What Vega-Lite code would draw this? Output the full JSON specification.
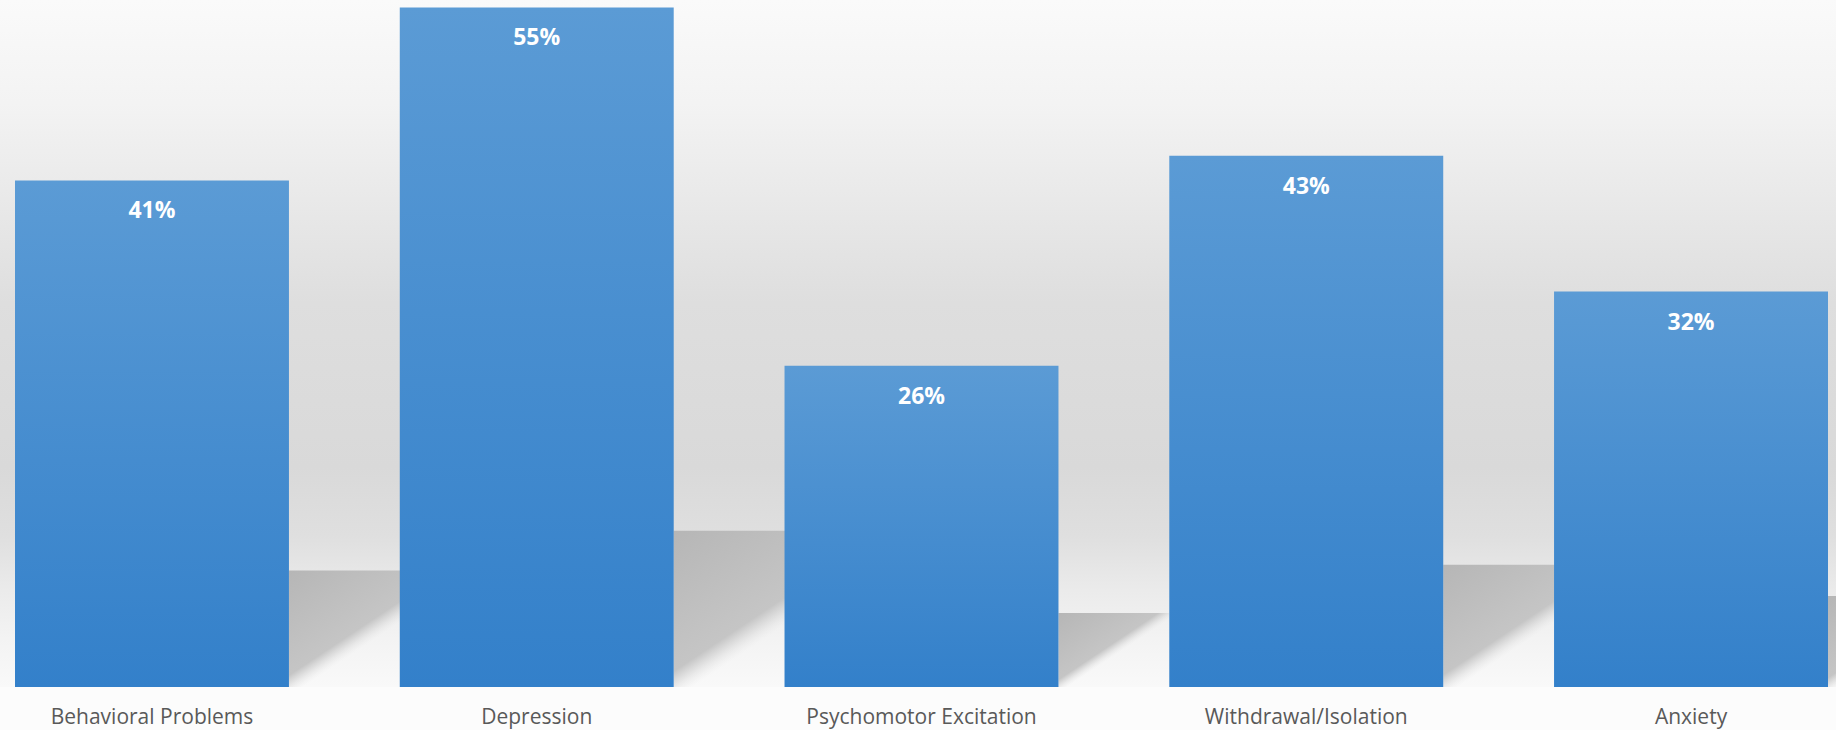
{
  "$schema": "https://vega.github.io/schema/vega-lite/v6.json",
  "width": 1836,
  "height": 687,
  "autosize": {"type": "none"},
  "padding": {"left": 0, "top": 0, "right": 0, "bottom": 43},
  "background": "#fcfcfc",
  "config": {
    "view": {"stroke": null},
    "font": "Open Sans",
    "axisX": {
      "title": null, "domain": false, "ticks": false, "labelAngle": 0,
      "labelFont": "Open Sans", "labelFontSize": 21, "labelColor": "#595959",
      "labelPadding": 36, "labelBaseline": "alphabetic", "labelLimit": 500
    }
  },
  "data": {
    "values": [
      {"category": "Behavioral Problems", "value": 0.41},
      {"category": "Depression", "value": 0.55},
      {"category": "Psychomotor Excitation", "value": 0.26},
      {"category": "Withdrawal/Isolation", "value": 0.43},
      {"category": "Anxiety", "value": 0.32}
    ]
  },
  "resolve": {"scale": {"y": "independent"}},
  "layer": [
    {
      "data": {"values": [{}]},
      "mark": {
        "type": "rect",
        "color": {
          "gradient": "linear", "x1": 0, "y1": 0, "x2": 0, "y2": 1,
          "stops": [
            {"offset": 0, "color": "#fafafa"},
            {"offset": 0.15, "color": "#f3f3f3"},
            {"offset": 0.29, "color": "#e9e9e9"},
            {"offset": 0.44, "color": "#dedede"},
            {"offset": 0.68, "color": "#d9d9d9"},
            {"offset": 0.78, "color": "#dfdfdf"},
            {"offset": 0.86, "color": "#ebebeb"},
            {"offset": 0.93, "color": "#f3f3f3"},
            {"offset": 1, "color": "#f9f9f9"}
          ]
        }
      },
      "encoding": {}
    },
    {
      "mark": {
        "type": "bar",
        "xOffset": {"expr": "137 + 213*datum.value"},
        "color": {
          "gradient": "linear", "x1": 0, "y1": 0, "x2": 1, "y2": 1,
          "stops": [
            {"offset": 0, "color": "#b6b6b6"},
            {"offset": 0.45, "color": "#c5c5c5"},
            {"offset": 0.5, "color": "rgba(205,205,205,0.35)"},
            {"offset": 0.54, "color": "rgba(225,225,225,0)"},
            {"offset": 1, "color": "rgba(225,225,225,0)"}
          ]
        }
      },
      "encoding": {
        "x": {"field": "category", "type": "nominal", "sort": null, "scale": {"range": [15, 1828], "paddingInner": 0.288, "paddingOuter": 0}},
        "y": {"field": "value", "type": "quantitative", "scale": {"domain": [0, 2.417], "nice": false, "zero": true}, "axis": null},
        "size": {"field": "value", "type": "quantitative", "scale": {"domain": [0, 0.556], "range": [0, 237], "zero": true}, "legend": null}
      }
    },
    {
      "mark": {
        "type": "bar",
        "color": {
          "gradient": "linear", "x1": 0, "y1": 0, "x2": 0, "y2": 1,
          "stops": [
            {"offset": 0, "color": "#5b9bd5"},
            {"offset": 1, "color": "#3380ca"}
          ]
        }
      },
      "encoding": {
        "x": {"field": "category", "type": "nominal", "sort": null, "scale": {"range": [15, 1828], "paddingInner": 0.288, "paddingOuter": 0}},
        "y": {"field": "value", "type": "quantitative", "scale": {"domain": [0, 0.556], "nice": false, "zero": true}, "axis": null}
      }
    },
    {
      "mark": {"type": "text", "baseline": "alphabetic", "dy": 38, "font": "Open Sans", "fontWeight": "bold", "fontSize": 23, "color": "#ffffff"},
      "encoding": {
        "x": {"field": "category", "type": "nominal", "sort": null, "scale": {"range": [15, 1828], "paddingInner": 0.288, "paddingOuter": 0}},
        "y": {"field": "value", "type": "quantitative", "scale": {"domain": [0, 0.556], "nice": false, "zero": true}, "axis": null},
        "text": {"field": "value", "type": "quantitative", "format": ".0%"}
      }
    }
  ]
}
